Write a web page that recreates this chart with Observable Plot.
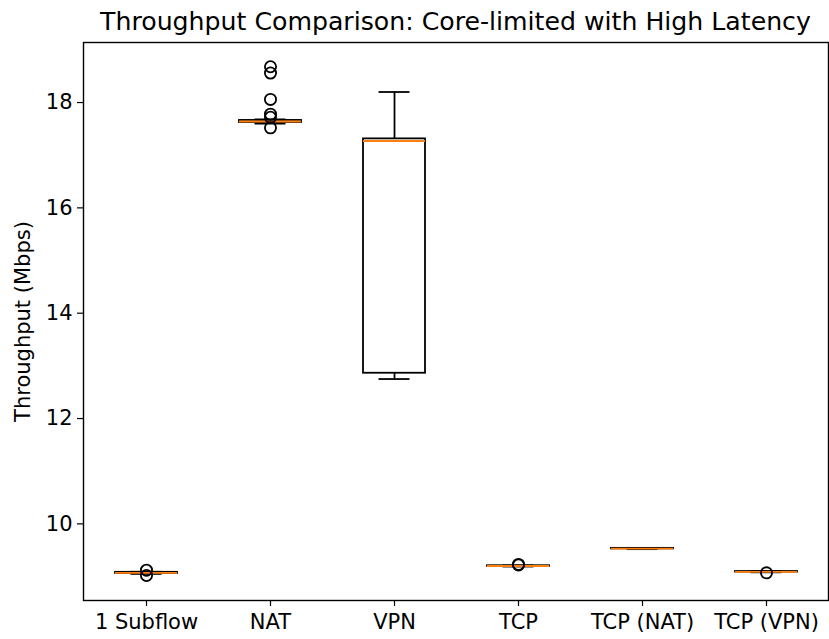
<!DOCTYPE html>
<html>
<head>
<meta charset="utf-8">
<script src="https://cdn.jsdelivr.net/npm/d3@7"></script>
<script src="https://cdn.jsdelivr.net/npm/@observablehq/plot@0.6"></script>
<style>
  html, body { margin: 0; padding: 0; background: #fff; }
  #fig { position: relative; width: 829px; height: 639px; font-family: "DejaVu Sans", sans-serif; }
  #title { position: absolute; left: 83px; width: 745px; top: 7px; text-align: center; font-size: 25.2px; color: #000; line-height: 30px; white-space: nowrap; }
  #chart { position: absolute; left: 0; top: 40px; }
</style>
</head>
<body>
<div id="fig">
  <div id="title">Throughput Comparison: Core-limited with High Latency</div>
  <div id="chart"></div>
</div>
<script>
const categories = ["1 Subflow", "NAT", "VPN", "TCP", "TCP (NAT)", "TCP (VPN)"];
const whiskerLow  = [9.05, 17.60, 12.75, 9.19, 9.52, 9.08];
const q1          = [9.06, 17.62, 12.86, 9.195, 9.525, 9.085];
const median      = [9.07, 17.64, 17.27, 9.20, 9.53, 9.09];
const q3          = [9.08, 17.66, 17.31, 9.205, 9.535, 9.095];
const whiskerHigh = [9.09, 17.68, 18.20, 9.21, 9.54, 9.10];
const outlierCats = ["1 Subflow", "1 Subflow", "NAT", "NAT", "NAT", "NAT", "NAT", "NAT", "TCP", "TCP", "TCP (VPN)"];
const outlierVals = [9.12, 9.02, 18.68, 18.56, 18.06, 17.78, 17.72, 17.52, 9.23, 9.22, 9.07];
const yTicks = [10, 12, 14, 16, 18];

const boxes = categories.map((c, i) => ({
  cat: c, lo: whiskerLow[i], q1: q1[i], med: median[i], q3: q3[i], hi: whiskerHigh[i]
}));
const outliers = outlierCats.map((c, i) => ({cat: c, v: outlierVals[i]}));

const W = 829, H = 599;
const mL = 83, mR = 1, mT = 2, mB = 39;
const band = (W - mL - mR) / categories.length * 0.5;
const capInset = band / 4;
const sw = 1.8;
const fs = 21;

const plot = Plot.plot({
  width: W,
  height: H,
  marginLeft: mL,
  marginRight: mR,
  marginTop: mT,
  marginBottom: mB,
  style: {fontFamily: "DejaVu Sans, sans-serif", fontSize: fs + "px", color: "#000", background: "#fff", overflow: "visible"},
  x: {domain: categories, paddingInner: 0.5, paddingOuter: 0.25},
  y: {domain: [8.545, 19.14]},
  marks: [
    Plot.axisX({tickSize: 6, tickPadding: 8, label: null, fontSize: fs, stroke: "#000", strokeWidth: 1.2}),
    Plot.axisY({ticks: yTicks, tickSize: 6, tickPadding: 5, fontSize: fs, label: "Throughput (Mbps)", labelAnchor: "center", labelArrow: "none", labelOffset: 68, strokeWidth: 1.2}),
    // whiskers
    Plot.ruleX(boxes, {x: "cat", y1: "lo", y2: "q1", stroke: "#000", strokeWidth: sw}),
    Plot.ruleX(boxes, {x: "cat", y1: "q3", y2: "hi", stroke: "#000", strokeWidth: sw}),
    // caps
    Plot.tickY(boxes, {x: "cat", y: "lo", stroke: "#000", strokeWidth: sw, insetLeft: capInset, insetRight: capInset}),
    Plot.tickY(boxes, {x: "cat", y: "hi", stroke: "#000", strokeWidth: sw, insetLeft: capInset, insetRight: capInset}),
    // boxes
    Plot.barY(boxes, {x: "cat", y1: "q1", y2: "q3", fill: "none", stroke: "#000", strokeWidth: sw}),
    // medians
    Plot.tickY(boxes, {x: "cat", y: "med", stroke: "#ff7f0e", strokeWidth: sw}),
    // outliers
    Plot.dot(outliers, {x: "cat", y: "v", r: 5.6, fill: "none", stroke: "#000", strokeWidth: sw}),
    Plot.frame({stroke: "#000", strokeWidth: 1.4})
  ]
});
document.getElementById("chart").appendChild(plot);
</script>
</body>
</html>
